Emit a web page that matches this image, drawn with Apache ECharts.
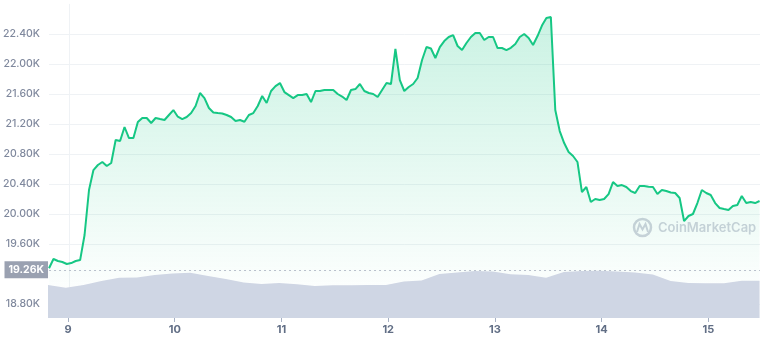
<!DOCTYPE html>
<html><head><meta charset="utf-8">
<script src="https://cdn.jsdelivr.net/npm/echarts@6/dist/echarts.min.js"></script>
<style>html,body{margin:0;padding:0;background:#fff}#c{width:760px;height:340px}</style>
</head><body><div id="c"></div>
<script>
// Hours relative to Sep 9 00:00 (hourly samples, starting Sep 8 19:30)
const priceHours = [];
for (let i = 0; i <= 160; i++) priceHours.push(-4.5 + i);
// BTC price (USD)
const priceValues = [19280,19404,19377,19364,19337,19350,19377,19390,19724,20324,
 20590,20657,20697,20644,20684,20990,20977,21164,21017,21017,
 21230,21284,21284,21217,21284,21270,21257,21324,21390,21301,
 21270,21297,21350,21444,21617,21550,21417,21357,21350,21344,
 21324,21297,21244,21257,21234,21324,21350,21444,21577,21484,
 21644,21710,21750,21630,21590,21550,21590,21590,21604,21497,
 21644,21644,21657,21657,21657,21604,21570,21524,21657,21670,
 21737,21644,21617,21604,21564,21657,21750,21737,22204,21790,
 21644,21697,21737,21817,22057,22230,22210,22084,22230,22310,
 22364,22390,22244,22190,22284,22364,22417,22417,22324,22364,
 22364,22217,22217,22190,22220,22270,22364,22404,22350,22257,
 22377,22517,22617,22630,21390,21110,20950,20830,20777,20697,
 20297,20364,20164,20204,20190,20204,20270,20430,20377,20390,
 20364,20310,20284,20377,20377,20367,20364,20270,20324,20310,
 20290,20284,20217,19910,19977,20004,20150,20324,20284,20257,
 20150,20084,20070,20057,20110,20124,20244,20150,20164,20150,
 20177];
// 24h volume (billions USD), every 4 hours
const volumeHours = [];
for (let j = 0; j <= 40; j++) volumeHours.push(-4.5 + 4 * j);
const volumeValues = [33,30.3,33,37,40.3,40.5,43,44.5,45.3,42,
 39,35.5,34,35,33.7,32,32.7,32.7,33,33,
 36.5,37.5,44,45.5,47,46.5,43.7,43,40.3,46,
 47,47.3,46.5,45.5,43.5,37,35,34.7,34.7,37.3,
 37.3];
const dayTicks = [0, 24, 48, 72, 96, 120, 144];
const dayLabels = ['9','10','11','12','13','14','15'];
const openPrice = 19260;
const openLabel = '19.26K';

const chart = echarts.init(document.getElementById('c'), null, {renderer: 'canvas'});
const xMin = -4.5, xMax = 155.6;
const green = '#16c784';
const splitColors = ['#eff2f5','rgba(0,0,0,0)','#eff2f5','#eff2f5','#eff2f5','#eff2f5','#eff2f5','#eff2f5','#eff2f5','#eff2f5','rgba(0,0,0,0)'];
chart.setOption({
  animation: false,
  textStyle: {fontFamily: 'Inter'},
  grid: [
    {left: 48, right: 0, top: 4.3, bottom: 35.7},
    {left: 48, right: 0, top: 268, bottom: 22}
  ],
  xAxis: [
    {type: 'value', gridIndex: 0, min: xMin, max: xMax, show: false},
    {type: 'value', gridIndex: 1, min: xMin, max: xMax,
      axisLine: {show: false}, splitLine: {show: false},
      axisTick: {show: true, customValues: dayTicks, length: 4, lineStyle: {color: '#a6b0c3'}},
      axisLabel: {customValues: dayTicks, margin: 6, color: '#616e85', fontSize: 11, fontWeight: 'bold', fontFamily: 'Inter',
        formatter: v => dayLabels[dayTicks.indexOf(v)] || ''}}
  ],
  yAxis: [
    {type: 'value', gridIndex: 0, min: 18800, max: 22800, interval: 400,
      axisLine: {show: true, lineStyle: {color: '#eff2f5'}}, axisTick: {show: false},
      splitLine: {lineStyle: {color: splitColors}},
      axisLabel: {margin: 9, color: '#7f889d', fontSize: 10.5, fontWeight: 500, fontFamily: 'Inter',
        formatter: v => (v === 19200 || v === 22800) ? '' : (v / 1000).toFixed(2) + 'K'}},
    {type: 'value', gridIndex: 1, min: 0, max: 50, show: false}
  ],
  graphic: [
    {type: 'circle', z: 1, shape: {cx: 642.5, cy: 227.5, r: 8.5}, style: {fill: 'none', stroke: '#cfd2dc', lineWidth: 2.5}},
    {type: 'polyline', z: 1, shape: {points: [[637,232],[639.5,224],[642.5,229.5],[645.5,224],[648,232]]}, style: {stroke: '#cfd2dc', lineWidth: 2, fill: 'none'}},
    {type: 'text', z: 1, x: 658, y: 228, style: {text: 'CoinMarketCap', fontSize: 13, fontWeight: 600, fontFamily: 'Inter', fill: '#cfd2dc', verticalAlign: 'middle'}}
  ],
  series: [
    {type: 'line', xAxisIndex: 0, yAxisIndex: 0, z: 3,
      data: priceHours.map((h, i) => [h, priceValues[i]]),
      showSymbol: false, lineStyle: {color: green, width: 2},
      areaStyle: {color: new echarts.graphic.LinearGradient(0, 0, 0, 1, [
        {offset: 0, color: 'rgba(22,199,132,0.32)'},
        {offset: 1, color: 'rgba(22,199,132,0.0)'}])},
      markLine: {silent: true, symbol: 'none', animation: false,
        lineStyle: {type: [2, 3], color: '#b9c0cc', width: 1},
        label: {position: 'start', formatter: openLabel, distance: 1, backgroundColor: '#9aa1b1', color: '#fff',
          fontSize: 10.5, fontWeight: 'bold', fontFamily: 'Inter', padding: [3, 4, 2, 4], lineHeight: 12},
        data: [{yAxis: openPrice}]}},
    {type: 'line', xAxisIndex: 1, yAxisIndex: 1, z: 4,
      data: volumeHours.map((h, i) => [h, volumeValues[i]]),
      showSymbol: false, lineStyle: {width: 0}, areaStyle: {color: '#cfd6e4', opacity: 1}}
  ]
});
</script></body></html>
